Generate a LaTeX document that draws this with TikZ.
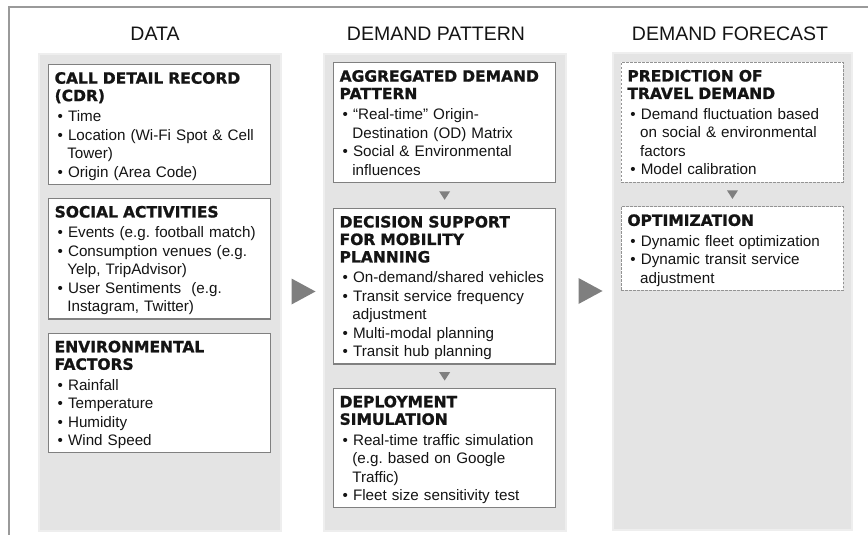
\documentclass[tikz,border=0pt]{standalone}
\usepackage{fontspec}
\setmainfont{Liberation Sans}
\newfontfamily\headfont{DejaVu Sans}[BoldFeatures={FakeBold=1.2}]
\usetikzlibrary{%
	positioning,%
	calc%
}

\definecolor{panelgray}{HTML}{E4E4E4}
\definecolor{panelrim}{HTML}{EEEEEE}
\definecolor{boxgray}{HTML}{808080}
\definecolor{tipgray}{HTML}{7F7F7F}
\definecolor{framegray}{HTML}{9A9A9A}
\definecolor{inkgray}{HTML}{141414}

% box contents: bold heading, then bullet items with hanging indent
\newcommand{\hd}[1]{{\headfont\bfseries\fontsize{15.5}{17.5}\selectfont #1\par}\vspace{2pt}}
\newcommand{\itm}[1]{\par\hangindent=12.7pt\hangafter=1\hspace*{3pt}\textbullet\ #1\rule[-4pt]{0pt}{4pt}\par}

\tikzset{
	panel/.style={fill=panelgray, draw=panelrim, line width=2pt, minimum width=242pt,
		minimum height=477pt, inner sep=0pt, anchor=north west},
	coltitle/.style={font=\fontsize{19.5}{22}\selectfont, text=inkgray, anchor=base},
	itembox/.style={draw=boxgray, line width=1.3pt, fill=white, text=inkgray,
		text width=210pt, inner xsep=6pt, inner ysep=3pt, align=left, anchor=north west,
		font=\fontsize{15.2}{18.5}\selectfont\frenchspacing,
		execute at begin node={\rule{0pt}{16pt}}},
	forecastbox/.style={itembox, draw=boxgray!85, line width=0.9pt, dash pattern=on 2.5pt off 1.5pt}
}

\begin{document}
\begin{tikzpicture}[x=1pt,y=1pt]
	\useasboundingbox (0,0) rectangle (868,-535);
	
	% Frame
	\draw[framegray, line width=1.6pt] (868,-7) -- (9,-7) -- (9,-535);
	
	% Columns
	\node[panel] (datapanel) at (38,-53) {};
	\node[panel] (patternpanel) at (323,-53) {};
	\node[panel, minimum width=239pt] (forecastpanel) at (612,-52) {};
	
	\node[coltitle] (datatitle) at (155,-41) {DATA};
	\node[coltitle] (patterntitle) at (436,-41) {DEMAND PATTERN};
	\node[coltitle] (forecasttitle) at (730,-41) {DEMAND FORECAST};
	
	% Data
	\node[itembox] (cdr) at (48,-64) {\hd{CALL DETAIL RECORD\newline(CDR)}%
		\itm{Time}%
		\itm{Location (Wi-Fi Spot \& Cell\newline Tower)}%
		\itm{Origin (Area Code)}};
	\node[itembox, below=13pt of cdr] (social) {\hd{SOCIAL ACTIVITIES}%
		\itm{Events (e.g. football match)}%
		\itm{Consumption venues (e.g.\newline Yelp, TripAdvisor)}%
		\itm{User Sentiments~ (e.g.\newline Instagram, Twitter)}};
	\node[itembox, below=13pt of social] (env) {\hd{ENVIRONMENTAL\newline FACTORS}%
		\itm{Rainfall}%
		\itm{Temperature}%
		\itm{Humidity}%
		\itm{Wind Speed}};
	
	% Demand pattern
	\node[itembox] (agg) at (333,-62) {\hd{AGGREGATED DEMAND\newline PATTERN}%
		\itm{“Real-time” Origin-\newline Destination (OD) Matrix}%
		\itm{Social \& Environmental\newline influences}};
	\node[itembox, below=25pt of agg] (dec) {\hd{DECISION SUPPORT\newline FOR MOBILITY\newline PLANNING}%
		\itm{On-demand/shared vehicles}%
		\itm{Transit service frequency\newline adjustment}%
		\itm{Multi-modal planning}%
		\itm{Transit hub planning}};
	\node[itembox, below=23pt of dec] (dep) {\hd{DEPLOYMENT\newline SIMULATION}%
		\itm{Real-time traffic simulation\newline (e.g. based on Google\newline Traffic)}%
		\itm{Fleet size sensitivity test}};
	
	% Demand forecast
	\node[forecastbox] (pred) at (621,-62) {\hd{PREDICTION OF\newline TRAVEL DEMAND}%
		\itm{Demand fluctuation based\newline on social \& environmental\newline factors}%
		\itm{Model calibration}};
	\node[forecastbox, below=24pt of pred] (opt) {\hd{OPTIMIZATION}%
		\itm{Dynamic fleet optimization}%
		\itm{Dynamic transit service\newline adjustment}};
	
	% Small tips between boxes
	\foreach \a/\b in {agg/dec, dec/dep, pred/opt}
	\fill[tipgray] ($(\a.south)!.5!(\b.north)$) ++(-5.5,4) -- ++(11,0) -- ++(-5.5,-8.5) -- cycle;
	
	% Big tips between columns
	\foreach \a/\b in {datapanel/patternpanel, patternpanel/forecastpanel}
	\fill[tipgray] ($(\a.east)!.5!(\b.west)$) ++(-11,14) -- ++(24,-13) -- ++(-24,-13) -- cycle;
\end{tikzpicture}
\end{document}
